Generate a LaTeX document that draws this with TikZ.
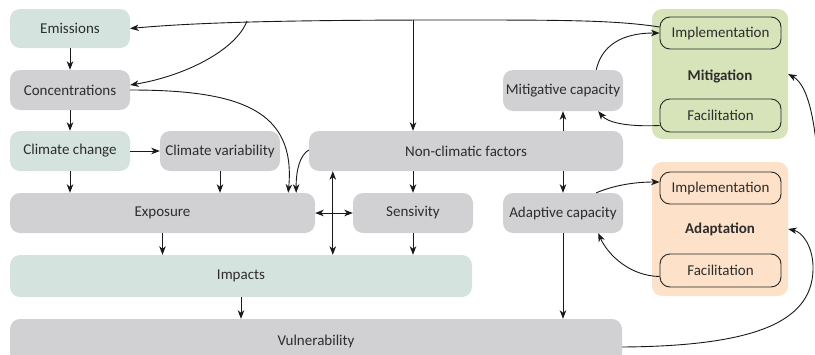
\documentclass[tikz,border=0pt]{standalone}
\usepackage{fontspec}
\setmainfont{Carlito}
\usetikzlibrary{arrows.meta,calc}
\definecolor{cTeal}{RGB}{213,227,222}
\definecolor{cGray}{RGB}{209,209,211}
\definecolor{cGreen}{RGB}{215,228,186}
\definecolor{cPeach}{RGB}{253,225,200}
\definecolor{cTxt}{RGB}{45,45,45}
\begin{document}
\begin{tikzpicture}[x=1pt,y=-1pt,
  every node/.style={font=\fontsize{15}{18}\selectfont, text=cTxt},
  bx/.style={rounded corners=10pt, inner sep=0pt, minimum height=40pt},
  inb/.style={draw=black!85, line width=0.9pt, rounded corners=10pt, inner sep=0pt, minimum width=121pt, minimum height=32pt},
  lbl/.style={font=\fontsize{15}{18}\selectfont\bfseries},
  tip/.tip={Stealth[length=8.5pt,width=6.5pt,inset=2.5pt]},
  arr/.style={-tip, line width=0.9pt, black!90},
  dbl/.style={tip-tip, line width=0.9pt, black!90}
]
\useasboundingbox (0,0) rectangle (815,354);
\clip (0,0) rectangle (815,354);

% left column boxes
\node[bx,fill=cTeal,minimum width=120pt,minimum height=39pt] (emis) at (70,28.5) {Emissions};
\node[bx,fill=cGray,minimum width=120pt] (conc) at (70,90) {Concentrations};
\node[bx,fill=cTeal,minimum width=120pt] (cc) at (70,151) {Climate change};
\node[bx,fill=cGray,minimum width=120pt] (cv) at (220,151) {Climate variability};
\node[bx,fill=cGray,minimum width=305pt] (expo) at (162.5,213) {Exposure};
\node[bx,fill=cTeal,minimum width=462pt,minimum height=42pt] (imp) at (241,276) {Impacts};
\node[bx,fill=cGray,minimum width=612pt,minimum height=44pt] (vuln) at (316,341) {Vulnerability};
\node[bx,fill=cGray,minimum width=314pt] (ncf) at (466,151) {Non-climatic factors};
\node[bx,fill=cGray,minimum width=120pt] (sens) at (413,213) {Sensivity};
\node[bx,fill=cGray,minimum width=120pt] (adc) at (563,213) {Adaptive capacity};
\node[bx,fill=cGray,minimum width=120pt,minimum height=41pt] (mtc) at (563,90.5) {Mitigative capacity};

% mitigation / adaptation groups
\node[bx,fill=cGreen,minimum width=136pt,minimum height=130pt] (mitB) at (720,74) {};
\node[lbl] (mitL) at (720,76) {Mitigation};
\node[inb] (imM) at (720.5,33) {Implementation};
\node[inb,minimum height=33pt] (faM) at (720.5,115.5) {Facilitation};

\node[bx,fill=cPeach,minimum width=136pt,minimum height=134pt] (adB) at (720,229) {};
\node[lbl] (adL) at (720,229) {Adaptation};
\node[inb] (imA) at (720.5,188) {Implementation};
\node[inb,minimum height=33pt] (faA) at (720.5,270.5) {Facilitation};

% helper coordinates
\coordinate (br) at (247,21);
\coordinate (dn) at (413,20);
\coordinate (vt) at ($(ncf.south west)+(24,0)$);

% top line from mitigation implementation to emissions
\draw[arr] ($(imM.west)+(0,-6)$) .. controls (615,20) and (560,20) .. (450,20)
  .. controls (300,20) and (200,22) .. (emis.east);
\draw[arr] (br) .. controls (236,50) and (185,76) .. ($(conc.east)+(0,-5)$);
\draw[arr] (dn) -- (dn |- ncf.north);

% left column
\draw[arr] (emis) -- (conc);
\draw[arr] (conc) -- (cc);
\draw[arr] (cc) -- (cv);
\draw[arr] (cc.south) -- (cc.south |- expo.north);
\draw[arr] (cv.south) -- (cv.south |- expo.north);
\draw[arr] (conc.east) .. controls (240,90) and (296,110) .. ($(expo.north east)+(-27,0)$);
\draw[arr] ($(ncf.west)+(0,-1)$) .. controls (300,155) and (296,170) .. ($(expo.north east)+(-19,0)$);
\draw[arr] (expo.south) -- (expo.south |- imp.north);
\draw[arr] (sens.south) -- (sens.south |- imp.north);
\draw[arr] (imp.south) -- (imp.south |- vuln.north);
\draw[arr] (sens.north |- ncf.south) -- (sens.north);
\draw[dbl] (expo.east) -- (sens.west);
\draw[dbl] (vt) -- (vt |- imp.north);

% right column
\draw[arr] (adc.north |- ncf.south) -- (adc.north);
\draw[arr] (mtc.south |- ncf.north) -- (mtc.south);
\draw[arr] (adc.south) -- (adc.south |- vuln.north);

% capacities and groups
\draw[arr] ($(mtc.north east)+(-27,0)$) .. controls (603,40) and (630,33) .. (imM.west);
\draw[arr] ($(faM.west)+(0,10)$) .. controls (625,127) and (607,122) .. ($(mtc.south east)+(-25,0)$);
\draw[arr] ($(adc.north east)+(-27,0)$) .. controls (615,185) and (635,182) .. ($(imA.west)+(0,-6)$);
\draw[arr] ($(faA.west)+(0,6)$) .. controls (630,276) and (608,255) .. ($(adc.south east)+(-25,0)$);

% vulnerability feedback
\draw[arr] ($(vuln.east)+(0,6)$) .. controls (760,346) and (815,320) .. (813,265)
  .. controls (812,245) and (802,232) .. (adB.east);
\coordinate (offr) at (818,165);
\draw[arr] (offr) .. controls (815,120) and (808,85) .. (mitB.east);
\end{tikzpicture}
\end{document}
